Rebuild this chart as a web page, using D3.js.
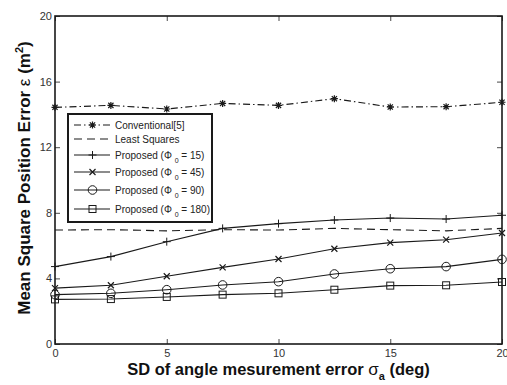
<!DOCTYPE html>
<html>
<head>
<meta charset="utf-8">
<script src="https://cdn.jsdelivr.net/npm/d3@7"></script>
<style>
  body { margin: 0; background: #fff; }
  svg { display: block; font-family: "Liberation Sans", Arial, sans-serif; }
</style>
</head>
<body>
<div id="chart"></div>
<script>
// Data
const sigma = [0, 2.5, 5, 7.5, 10, 12.5, 15, 17.5, 20];
const conventional = [14.43, 14.55, 14.33, 14.67, 14.55, 14.96, 14.45, 14.47, 14.74];
const leastSquares = [6.95, 6.97, 6.9, 6.97, 6.95, 7.05, 6.97, 6.9, 7.05];
const proposed15 = [4.72, 5.33, 6.24, 7.05, 7.34, 7.56, 7.68, 7.62, 7.85];
const proposed45 = [3.41, 3.58, 4.13, 4.67, 5.18, 5.81, 6.18, 6.36, 6.77];
const proposed90 = [3.01, 3.09, 3.31, 3.6, 3.8, 4.27, 4.59, 4.72, 5.16];
const proposed180 = [2.72, 2.74, 2.87, 3.01, 3.09, 3.31, 3.56, 3.58, 3.78];
const xTicks = [0, 5, 10, 15, 20];
const yTicks = [0, 4, 8, 12, 16, 20];

const series = [
  { name: "Conventional[5]", values: conventional, dash: "7,3,1.5,3", marker: "star" },
  { name: "Least Squares", values: leastSquares, dash: "8,5", marker: null },
  { name: "Proposed", phi: "15", values: proposed15, dash: null, marker: "plus" },
  { name: "Proposed", phi: "45", values: proposed45, dash: null, marker: "cross" },
  { name: "Proposed", phi: "90", values: proposed90, dash: null, marker: "circle" },
  { name: "Proposed", phi: "180", values: proposed180, dash: null, marker: "square" }
];

const width = 507;
const height = 385;
const margin = { top: 16, right: 5, bottom: 41, left: 55 };
const ink = "#1a1a1a";

const svg = d3.select("#chart").append("svg")
  .attr("width", width)
  .attr("height", height);

const x = d3.scaleLinear().domain([0, 20]).range([margin.left, width - margin.right]);
const y = d3.scaleLinear().domain([0, 20]).range([height - margin.bottom, margin.top]);

// Axes with inward ticks (bottom/left labelled, top/right bare)
const tickLen = 5;
svg.append("g")
  .attr("transform", `translate(0,${y(0)})`)
  .call(d3.axisBottom(x).tickValues(xTicks).tickSizeInner(-tickLen).tickSizeOuter(0).tickPadding(5))
  .call(g => g.select(".domain").remove());
svg.append("g")
  .attr("transform", `translate(0,${y(20)})`)
  .call(d3.axisTop(x).tickValues(xTicks).tickSizeInner(-tickLen).tickSizeOuter(0).tickFormat(""))
  .call(g => g.select(".domain").remove());
svg.append("g")
  .attr("transform", `translate(${x(0)},0)`)
  .call(d3.axisLeft(y).tickValues(yTicks).tickSizeInner(-tickLen).tickSizeOuter(0).tickPadding(3))
  .call(g => g.select(".domain").remove());
svg.append("g")
  .attr("transform", `translate(${x(20)},0)`)
  .call(d3.axisRight(y).tickValues(yTicks).tickSizeInner(-tickLen).tickSizeOuter(0).tickFormat(""))
  .call(g => g.select(".domain").remove());

svg.selectAll(".tick line").attr("stroke", ink).attr("stroke-width", 0.8);
svg.selectAll(".tick text").attr("fill", "#333").style("font-size", "11px");

// Plot box
svg.append("rect")
  .attr("x", x(0)).attr("y", y(20))
  .attr("width", x(20) - x(0)).attr("height", y(0) - y(20))
  .attr("fill", "none").attr("stroke", ink).attr("stroke-width", 1.6);

// Marker drawing
function drawMarker(g, type, cx, cy) {
  if (type === "plus") {
    g.append("path").attr("d", `M${cx - 4},${cy}H${cx + 4}M${cx},${cy - 4}V${cy + 4}`)
      .attr("stroke", ink).attr("stroke-width", 1);
  } else if (type === "cross") {
    g.append("path").attr("d", `M${cx - 3},${cy - 3}L${cx + 3},${cy + 3}M${cx - 3},${cy + 3}L${cx + 3},${cy - 3}`)
      .attr("stroke", ink).attr("stroke-width", 1.2);
  } else if (type === "star") {
    g.append("path").attr("d",
      `M${cx - 3.5},${cy}H${cx + 3.5}M${cx},${cy - 3.5}V${cy + 3.5}` +
      `M${cx - 2.6},${cy - 2.6}L${cx + 2.6},${cy + 2.6}M${cx - 2.6},${cy + 2.6}L${cx + 2.6},${cy - 2.6}`)
      .attr("stroke", ink).attr("stroke-width", 1.2);
  } else if (type === "circle") {
    g.append("circle").attr("cx", cx).attr("cy", cy).attr("r", 4.3)
      .attr("fill", "none").attr("stroke", ink).attr("stroke-width", 1);
  } else if (type === "square") {
    g.append("rect").attr("x", cx - 3.5).attr("y", cy - 3.5).attr("width", 7).attr("height", 7)
      .attr("fill", "none").attr("stroke", ink).attr("stroke-width", 1);
  }
}

const line = d3.line().x((d, i) => x(sigma[i])).y(d => y(d));

series.forEach(s => {
  const g = svg.append("g");
  g.append("path")
    .datum(s.values)
    .attr("d", line)
    .attr("fill", "none")
    .attr("stroke", ink)
    .attr("stroke-width", 1.1)
    .attr("stroke-dasharray", s.dash);
  if (s.marker) {
    s.values.forEach((v, i) => drawMarker(g, s.marker, x(sigma[i]), y(v)));
  }
});

// Legend
const legend = svg.append("g").attr("transform", "translate(68,114)");
legend.append("rect")
  .attr("width", 144).attr("height", 108)
  .attr("fill", "#fff").attr("stroke", ink).attr("stroke-width", 2);

const rowY = [11, 25, 41, 58, 76, 95];
series.forEach((s, i) => {
  const ry = rowY[i];
  legend.append("line")
    .attr("x1", 6).attr("x2", 42).attr("y1", ry).attr("y2", ry)
    .attr("stroke", ink).attr("stroke-width", 1.1)
    .attr("stroke-dasharray", s.dash);
  if (s.marker) drawMarker(legend, s.marker, 24.5, ry);
  const t = legend.append("text")
    .attr("x", 47).attr("y", ry + 3.5)
    .attr("fill", "#222")
    .style("font-size", "10px");
  if (s.phi) {
    t.append("tspan").text("Proposed (Φ ");
    t.append("tspan").attr("dy", 4).style("font-size", "7px").text("0");
    t.append("tspan").attr("dy", -4).text(` = ${s.phi})`);
  } else {
    t.text(s.name);
  }
});

// Axis titles
const xt = svg.append("text")
  .attr("x", (x(0) + x(20)) / 2).attr("y", 375)
  .attr("text-anchor", "middle")
  .attr("fill", "#111")
  .style("font-size", "16.5px").style("font-weight", "bold");
xt.append("tspan").text("SD of angle mesurement error ");
xt.append("tspan").style("font-weight", "normal").style("font-size", "17px").text("σ");
xt.append("tspan").attr("dy", 5).style("font-size", "11px").text("a");
xt.append("tspan").attr("dy", -5).text(" (deg)");

const yt = svg.append("text")
  .attr("transform", `translate(30,${(y(0) + y(20)) / 2 - 2}) rotate(-90)`)
  .attr("text-anchor", "middle")
  .attr("fill", "#111")
  .style("font-size", "17px").style("font-weight", "bold");
yt.append("tspan").text("Mean Square Position Error  ");
yt.append("tspan").style("font-weight", "normal").text("ε");
yt.append("tspan").text(" (m");
yt.append("tspan").attr("dy", -7).style("font-size", "11px").text("2");
yt.append("tspan").attr("dy", 7).text(")");
</script>
</body>
</html>
